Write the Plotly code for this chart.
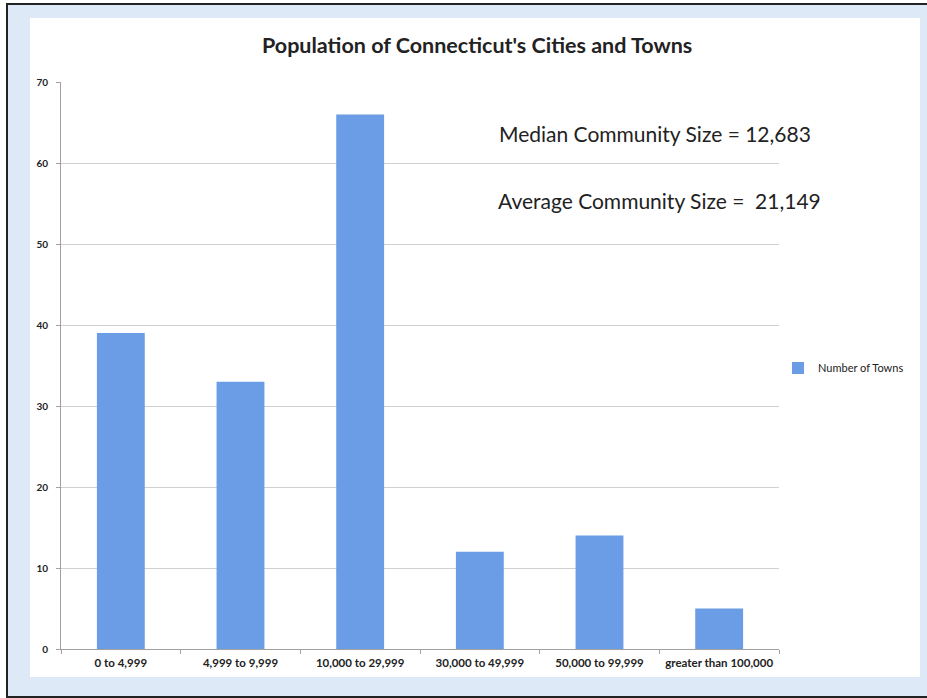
import plotly.graph_objects as go

categories = ["0 to 4,999", "4,999 to 9,999", "10,000 to 29,999",
              "30,000 to 49,999", "50,000 to 99,999", "greater than 100,000"]
towns = [39, 33, 66, 12, 14, 5]
y_ticks = [0, 10, 20, 30, 40, 50, 60, 70]

W, H = 927, 698
L, R, T, B = 61, 779, 82, 649

def px(x):
    return (x - L) / (R - L)

def py(y):
    return (B - y) / (B - T)

fig = go.Figure()
fig.add_trace(go.Bar(
    x=categories, y=towns, name="Number of Towns",
    marker=dict(color="#6b9de6", line=dict(width=0)),
))

fig.update_layout(
    width=W, height=H,
    margin=dict(l=L, r=W - R, t=T, b=H - B, autoexpand=False),
    paper_bgcolor="white", plot_bgcolor="white",
    bargap=0.6,
    font=dict(family="Lato, Open Sans, sans-serif", color="#222"),
    showlegend=True,
    legend=dict(x=px(778), y=py(368), xanchor="left", yanchor="middle",
                font=dict(size=11, color="#222"), bgcolor="rgba(0,0,0,0)",
                itemwidth=30),
    xaxis=dict(showline=True, linecolor="#a0a0a0", linewidth=1,
               ticks="outside", ticklen=4, tickcolor="#a0a0a0",
               tickson="boundaries", showgrid=False, ticklabelstandoff=3,
               tickfont=dict(size=11.5, color="#222", weight="bold"),
               fixedrange=True),
    yaxis=dict(range=[0, 70], tickvals=y_ticks, showline=True,
               linecolor="#a0a0a0", linewidth=1, ticks="outside", ticklen=4,
               tickcolor="#a0a0a0", gridcolor="#d0d0d0", gridwidth=1,
               ticklabelstandoff=6,
               tickfont=dict(size=10, color="#222", weight="bold"),
               zeroline=False),
    shapes=[
        dict(type="rect", xref="paper", yref="paper", layer="below",
             x0=px(7), x1=px(940), y0=py(697), y1=py(4),
             fillcolor="#dde9f6", line=dict(color="#222", width=2)),
        dict(type="rect", xref="paper", yref="paper", layer="below",
             x0=px(30), x1=px(920), y0=py(677), y1=py(18),
             fillcolor="white", line=dict(width=0)),
    ],
    annotations=[
        dict(text="<b>Population of Connecticut's Cities and Towns</b>",
             xref="paper", yref="paper", x=px(477), y=py(45),
             xanchor="center", yanchor="middle",
             showarrow=False, font=dict(size=21.5, color="#222")),
        dict(text="Median Community Size = 12,683",
             xref="paper", yref="paper", x=px(655), y=py(133),
             xanchor="center", yanchor="middle",
             showarrow=False, font=dict(size=21, color="#222")),
        dict(text="Average Community Size =  21,149",
             xref="paper", yref="paper", x=px(659), y=py(200),
             xanchor="center", yanchor="middle",
             showarrow=False, font=dict(size=21, color="#222")),
    ],
)
fig.write_html("out.html")
